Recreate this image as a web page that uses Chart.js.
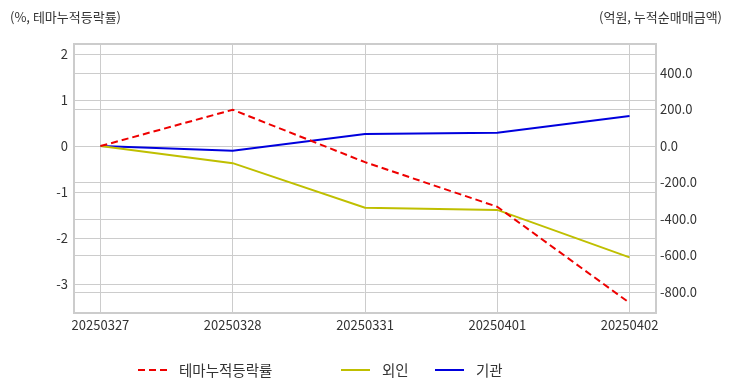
<!DOCTYPE html>
<html>
<head>
<meta charset="utf-8">
<script src="https://cdn.jsdelivr.net/npm/chart.js@4"></script>
<style>
  body { margin: 0; background: #fff; font-family: "Noto Sans CJK KR", "Noto Sans", sans-serif; }
  #wrap { position: relative; width: 732px; height: 392px; }
  .unit { position: absolute; top: 7px; font-size: 13px; color: #333; }
  #legend { position: absolute; top: 359px; left: 0; width: 732px; height: 20px; font-size: 14.5px; color: #333; }
  .item { position: absolute; top: 0; display: flex; align-items: center; }
  .item svg { margin-right: 12px; }
</style>
</head>
<body>
<div id="wrap">
  <canvas id="chart" width="732" height="392"></canvas>
  <div class="unit" style="left:10px">(%, 테마누적등락률)</div>
  <div class="unit" style="right:10px">(억원, 누적순매매금액)</div>
  <div id="legend"></div>
</div>
<script>
// ---------- DATA ----------
const dates = ["20250327", "20250328", "20250331", "20250401", "20250402"];
const themeRate = [0, 0.79, -0.35, -1.32, -3.41];   // %, left axis
const foreign = [0, -94, -338, -350, -610];         // 억원, right axis
const institution = [0, -26, 66, 73, 164];          // 억원, right axis

const leftTicks = [-3, -2, -1, 0, 1, 2];
const rightTicks = [-800, -600, -400, -200, 0, 200, 400];

const toPoints = arr => arr.map((v, i) => ({ x: i, y: v }));

const series = [
  { label: "테마누적등락률", data: themeRate, color: "#ee0000", dash: [7, 4], axis: "yL" },
  { label: "외인", data: foreign, color: "#bfbf00", dash: [], axis: "yR" },
  { label: "기관", data: institution, color: "#0000dd", dash: [], axis: "yR" }
];

const gridColor = "#cccccc";
const tickFont = { family: "'Noto Sans CJK KR', 'Noto Sans', sans-serif", size: 13 };

// full frame round the plot area
const frame = {
  id: "frame",
  afterDraw(chart) {
    const { ctx, chartArea: a } = chart;
    ctx.save();
    ctx.strokeStyle = gridColor;
    ctx.lineWidth = 2;
    ctx.strokeRect(a.left, a.top, a.right - a.left, a.bottom - a.top);
    ctx.restore();
  }
};

new Chart(document.getElementById("chart"), {
  type: "line",
  data: {
    datasets: series.map(s => ({
      label: s.label,
      data: toPoints(s.data),
      borderColor: s.color,
      borderDash: s.dash,
      borderWidth: 2,
      pointRadius: 0,
      tension: 0,
      yAxisID: s.axis
    }))
  },
  options: {
    responsive: false,
    animation: false,
    layout: { padding: { top: 44, left: 0, right: 0, bottom: 0 } },
    plugins: { legend: { display: false }, tooltip: { enabled: false } },
    scales: {
      x: {
        type: "linear",
        min: -0.2,
        max: 4.2,
        afterFit: s => { s.height = 79; },
        border: { color: gridColor, width: 2 },
        grid: { color: gridColor, drawTicks: false },
        ticks: {
          stepSize: 1,
          includeBounds: false,
          autoSkip: false,
          maxRotation: 0,
          padding: 4,
          color: "#333",
          font: tickFont,
          callback: v => dates[v] || ""
        }
      },
      yL: {
        position: "left",
        min: -3.63,
        max: 2.22,
        afterFit: s => { s.width = 74; },
        border: { color: gridColor, width: 2 },
        grid: { color: gridColor, drawTicks: false },
        afterBuildTicks: s => { s.ticks = leftTicks.map(v => ({ value: v })); },
        ticks: { padding: 6, color: "#333", font: tickFont }
      },
      yR: {
        position: "right",
        min: -915,
        max: 559,
        afterFit: s => { s.width = 76; },
        border: { color: gridColor, width: 2 },
        grid: { color: gridColor, drawTicks: false },
        afterBuildTicks: s => { s.ticks = rightTicks.map(v => ({ value: v })); },
        ticks: { padding: 4, color: "#333", font: tickFont, callback: v => v.toFixed(1) }
      }
    }
  },
  plugins: [frame]
});

// ---------- LEGEND ----------
const legendX = [138, 341, 435];
const legendDiv = document.getElementById("legend");
series.forEach((s, i) => {
  const item = document.createElement("div");
  item.className = "item";
  item.style.left = legendX[i] + "px";
  item.innerHTML = `
    <svg width="29" height="20"><line x1="0" y1="10" x2="29" y2="10" stroke="${s.color}"
      stroke-width="2" stroke-dasharray="${s.dash.join(",")}"/></svg>
    <span>${s.label}</span>
  `;
  legendDiv.appendChild(item);
});
</script>
</body>
</html>
